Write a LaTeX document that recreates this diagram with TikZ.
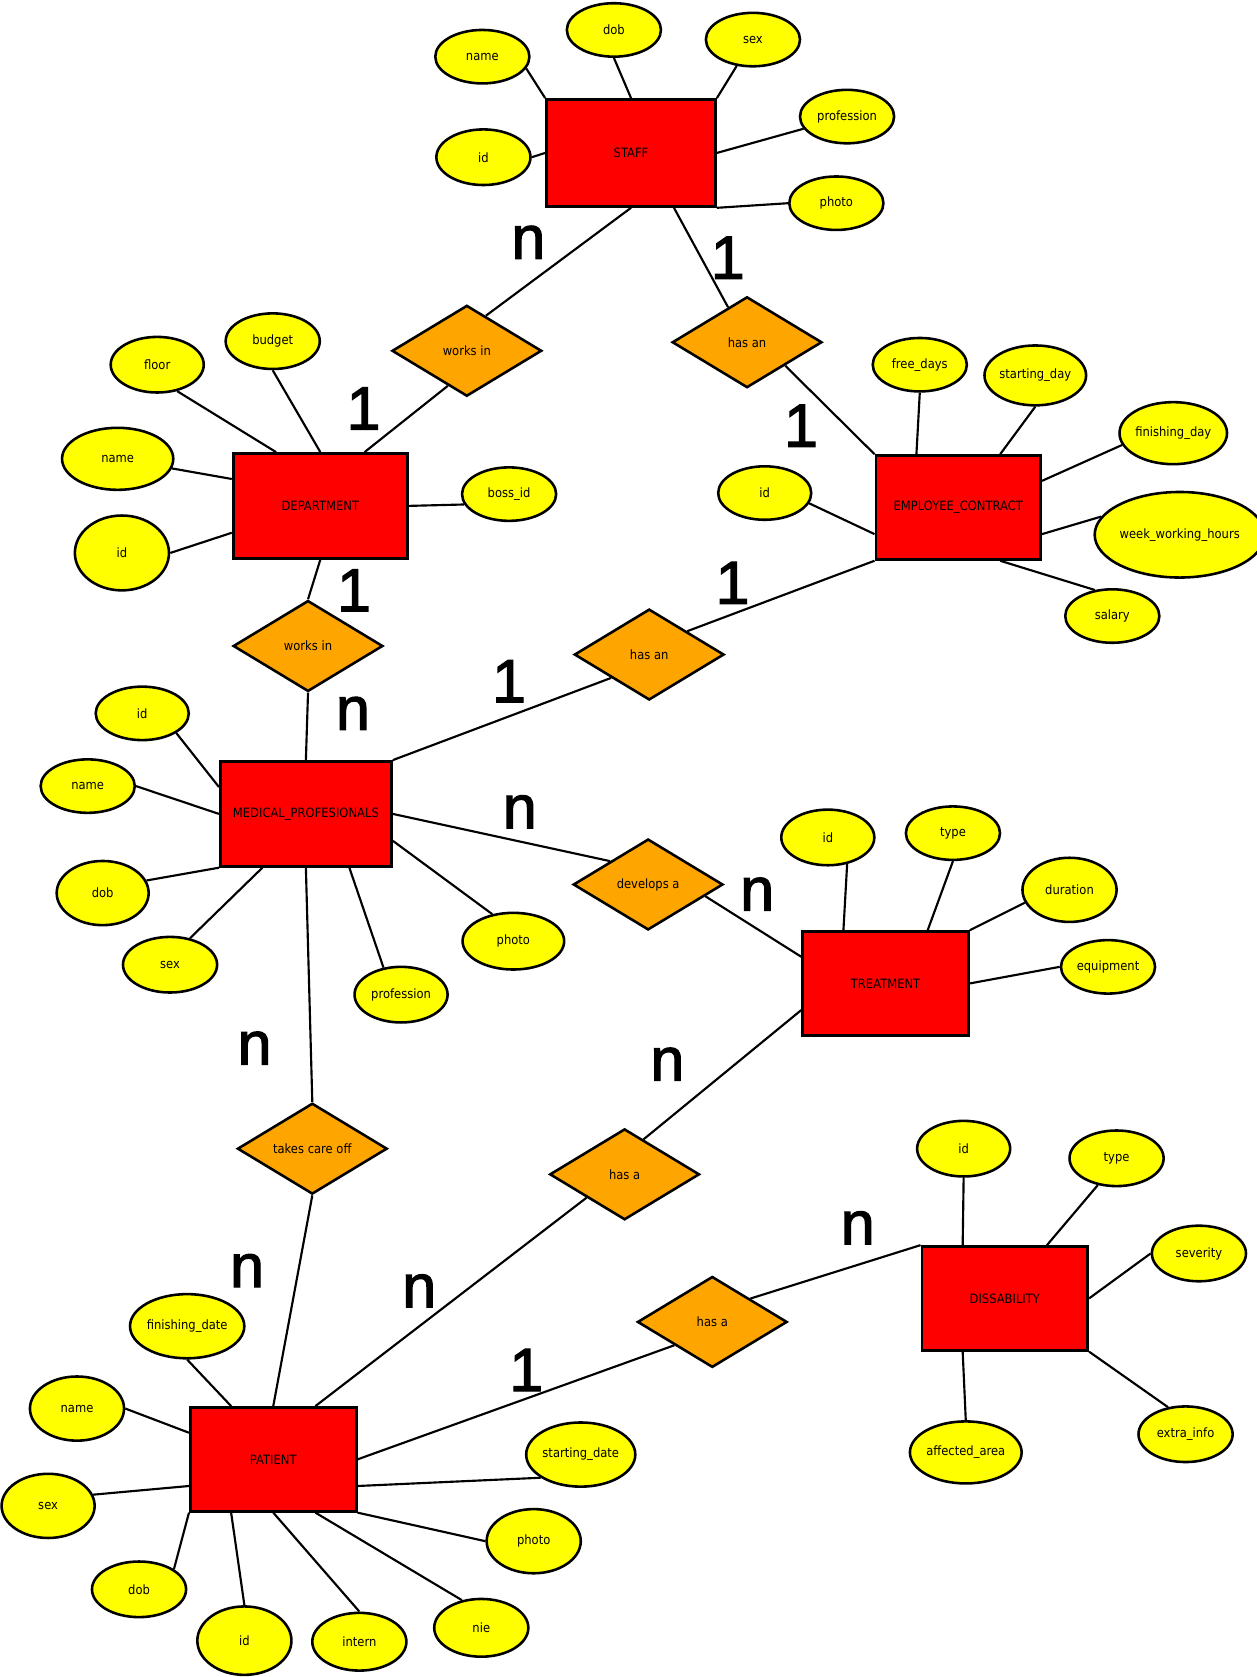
\documentclass[tikz,border=0pt]{standalone}
\usepackage{fontspec}
\setmainfont{DejaVu Sans}[FakeStretch=0.9]
\newfontfamily\cardfont{Liberation Sans}[FakeBold=2]
\usetikzlibrary{shapes.geometric,calc}
\definecolor{entred}{HTML}{FF0000}
\definecolor{attryellow}{HTML}{FFFF00}
\definecolor{relorange}{HTML}{FFA500}
\pgfdeclarelayer{background}
\pgfsetlayers{background,main}
\begin{document}
\begin{tikzpicture}[x=1pt,y=-1pt,
  lbl/.style={font=\fontsize{12}{14}\selectfont},
  entity/.style 2 args={rectangle,draw,fill=entred,line width=2.6pt,minimum width=#1pt,minimum height=#2pt,inner sep=0pt,lbl},
  attr/.style 2 args={ellipse,draw,fill=attryellow,line width=2.4pt,minimum width=#1pt,minimum height=#2pt,inner sep=0pt,lbl},
  rel/.style={diamond,draw,fill=relorange,line width=2.4pt,minimum width=140pt,minimum height=85pt,inner sep=0pt,lbl},
  link/.style={line width=2pt},
  card/.style={font=\cardfont\fontsize{57}{60}\selectfont,inner sep=0pt}]
\useasboundingbox (0,0) rectangle (1174.4,1568);

% STAFF
\node[entity={158}{100}] (staff) at (590,143) {STAFF};
\node[attr={88}{50}] (sname) at (451,53) {name};
\node[attr={88}{50}] (sdob) at (574,28) {dob};
\node[attr={88}{50}] (ssex) at (704,37) {sex};
\node[attr={88}{50}] (sprof) at (792,109) {profession};
\node[attr={88}{50}] (sphoto) at (782,190) {photo};
\node[attr={88}{52}] (sid) at (452,147) {id};

\node[rel] (w1) at (436.5,328) {works in};
\node[rel] (h1) at (698.5,320) {has an};

% DEPARTMENT
\node[entity={163}{98}] (dept) at (299.5,473) {DEPARTMENT};
\node[attr={87}{52}] (dfloor) at (147,341) {floor};
\node[attr={88}{52}] (dbudget) at (255,319) {budget};
\node[attr={104}{58}] (dname) at (110,429) {name};
\node[attr={88}{70}] (did) at (114,517) {id};
\node[attr={88}{50}] (dboss) at (476,462) {boss\_id};

% EMPLOYEE_CONTRACT
\node[entity={154}{97}] (ec) at (896,474.5) {EMPLOYEE\_CONTRACT};
\node[attr={88}{50}] (efree) at (860,341) {free\_days};
\node[attr={95}{56}] (estart) at (968,351) {starting\_day};
\node[attr={98}{58}] (efin) at (1097,405) {finishing\_day};
\node[attr={137}{80}] (eweek) at (1103,500) {week\_working\_hours};
\node[attr={88}{50}] (esal) at (1040,576) {salary};
\node[attr={87}{50}] (eid) at (715,461) {id};

\node[rel] (w2) at (288,604) {works in};
\node[rel] (h2) at (607,612) {has an};

% MEDICAL_PROFESIONALS
\node[entity={160}{98}] (med) at (286,761) {MEDICAL\_PROFESIONALS};
\node[attr={87}{50}] (mid) at (133,667) {id};
\node[attr={88}{50}] (mname) at (82,735) {name};
\node[attr={86}{60}] (mdob) at (96,835) {dob};
\node[attr={88}{52}] (msex) at (159,902) {sex};
\node[attr={87}{52}] (mprof) at (375,930) {profession};
\node[attr={95}{53}] (mphoto) at (480,880) {photo};

\node[rel] (dev) at (606,827) {develops a};
\node[rel] (tc) at (292,1074) {takes care off};

% TREATMENT
\node[entity={155}{97}] (tr) at (828,919.5) {TREATMENT};
\node[attr={87}{52}] (tid) at (774,783) {id};
\node[attr={88}{50}] (ttype) at (891,779) {type};
\node[attr={88}{60}] (tdur) at (1000,832) {duration};
\node[attr={88}{50}] (tequip) at (1036,904) {equipment};

\node[rel] (ha1) at (584,1098) {has a};
\node[rel] (ha2) at (666,1236) {has a};

% DISSABILITY
\node[entity={155}{97}] (dis) at (939.5,1214) {DISSABILITY};
\node[attr={87}{52}] (xid) at (901,1074) {id};
\node[attr={88}{52}] (xtype) at (1044,1083) {type};
\node[attr={88}{52}] (xsev) at (1121,1172) {severity};
\node[attr={88}{52}] (xextra) at (1108.5,1341) {extra\_info};
\node[attr={102}{58}] (xaff) at (903,1358) {affected\_area};

% PATIENT
\node[entity={155}{97}] (pat) at (255.5,1364.5) {PATIENT};
\node[attr={102}{60}] (pfin) at (175,1240) {finishing\_date};
\node[attr={88}{60}] (pname) at (72,1317) {name};
\node[attr={87}{60}] (psex) at (45,1408) {sex};
\node[attr={88}{52}] (pdob) at (130,1486) {dob};
\node[attr={88}{64}] (pid) at (228.5,1534) {id};
\node[attr={88}{54}] (pintern) at (336,1535) {intern};
\node[attr={88}{54}] (pnie) at (450,1522) {nie};
\node[attr={88}{60}] (pphoto) at (499,1441) {photo};
\node[attr={102}{60}] (pstart) at (543,1360) {starting\_date};

% cardinalities
\node[card] (c1) at (494,226.5) {n};
\node[card] (c2) at (680.5,241) {1};
\node[card] (c3) at (340,382) {1};
\node[card] (c4) at (749,398) {1};
\node[card] (c5) at (331,552) {1};
\node[card] (c6) at (685,545) {1};
\node[card] (c7) at (330,667) {n};
\node[card] (c8) at (476,637) {1};
\node[card] (c9) at (486,759) {n};
\node[card] (c10) at (708,836) {n};
\node[card] (c11) at (238,980) {n};
\node[card] (c12) at (624,995) {n};
\node[card] (c13) at (802,1148) {n};
\node[card] (c14) at (231,1188) {n};
\node[card] (c15) at (392,1207) {n};
\node[card] (c16) at (492,1281) {1};

\begin{pgfonlayer}{background}
\fill[white] (0,0) rectangle (1174.4,1568);
% STAFF attributes
\draw[link] (sname.-15) -- (staff.north west);
\draw[link] (sdob.south) -- (staff.north);
\draw[link] (ssex) -- (staff.north east);
\draw[link] (sprof) -- (staff.east);
\draw[link] (sphoto.west) -- (staff.south east);
\draw[link] (sid.east) -- (staff.west);
% relationships from STAFF
\draw[link] (staff.south) -- ($(w1.north)!0.25!(w1.east)$);
\draw[link] ($(w1.south)!0.25!(w1.west)$) -- ($(dept.north)!0.5!(dept.north east)$);
\draw[link] ($(staff.south)!0.5!(staff.south east)$) -- ($(h1.north)!0.25!(h1.west)$);
\draw[link] ($(h1.east)!0.5!(h1.south)$) -- (ec.north west);
% DEPARTMENT attributes
\draw[link] (dfloor.-53) -- ($(dept.north west)!0.5!(dept.north)$);
\draw[link] (dbudget.south) -- (dept.north);
\draw[link] (dname) -- ($(dept.north west)!0.5!(dept.west)$);
\draw[link] (did.east) -- ($(dept.west)!0.5!(dept.south west)$);
\draw[link] (dboss.193) -- (dept.east);
% EMPLOYEE_CONTRACT attributes
\draw[link] (efree.south) -- ($(ec.north west)!0.5!(ec.north)$);
\draw[link] (estart.south) -- ($(ec.north)!0.5!(ec.north east)$);
\draw[link] (efin.193) -- ($(ec.north east)!0.5!(ec.east)$);
\draw[link] (eweek.167) -- ($(ec.east)!0.5!(ec.south east)$);
\draw[link] (esal.124) -- ($(ec.south)!0.5!(ec.south east)$);
\draw[link] (eid.-13) -- ($(ec.west)!0.5!(ec.south west)$);
% works in / has an (middle)
\draw[link] (dept.south) -- (w2.north);
\draw[link] (w2.south) -- (med.north);
\draw[link] (ec.south west) -- ($(h2.east)!0.5!(h2.north)$);
\draw[link] ($(h2.west)!0.5!(h2.south)$) -- (med.north east);
% MEDICAL attributes
\draw[link] (mid.-30) -- ($(med.north west)!0.5!(med.west)$);
\draw[link] (mname.east) -- (med.west);
\draw[link] (mdob.16) -- (med.south west);
\draw[link] (msex.53) -- ($(med.south west)!0.5!(med.south)$);
\draw[link] (mprof.123) -- ($(med.south)!0.5!(med.south east)$);
\draw[link] (mphoto.128) -- ($(med.east)!0.5!(med.south east)$);
% develops a
\draw[link] (med.east) -- ($(dev.west)!0.5!(dev.north)$);
\draw[link] ($(dev.east)!0.25!(dev.south)$) -- ($(tr.north west)!0.5!(tr.west)$);
% takes care off
\draw[link] (med.south) -- (tc.north);
\draw[link] (tc.south) -- (pat.north);
% TREATMENT attributes
\draw[link] (tid.-54) -- ($(tr.north west)!0.5!(tr.north)$);
\draw[link] (ttype.south) -- ($(tr.north)!0.5!(tr.north east)$);
\draw[link] (tdur.196) -- (tr.north east);
\draw[link] (tequip.west) -- (tr.east);
% has a (treatment)
\draw[link] ($(tr.west)!0.5!(tr.south west)$) -- ($(ha1.north)!0.25!(ha1.east)$);
\draw[link] ($(ha1.west)!0.5!(ha1.south)$) -- ($(pat.north)!0.5!(pat.north east)$);
% has a (dissability)
\draw[link] ($(ha2.east)!0.5!(ha2.north)$) -- (dis.north west);
\draw[link] ($(ha2.west)!0.5!(ha2.south)$) -- (pat.east);
% DISSABILITY attributes
\draw[link] (xid.south) -- ($(dis.north west)!0.5!(dis.north)$);
\draw[link] (xtype.235) -- ($(dis.north)!0.5!(dis.north east)$);
\draw[link] (xsev.west) -- (dis.east);
\draw[link] (xextra.123) -- (dis.south east);
\draw[link] (xaff.north) -- ($(dis.south west)!0.5!(dis.south)$);
% PATIENT attributes
\draw[link] (pfin.south) -- ($(pat.north west)!0.5!(pat.north)$);
\draw[link] (pname.east) -- ($(pat.north west)!0.5!(pat.west)$);
\draw[link] (psex.14) -- ($(pat.west)!0.5!(pat.south west)$);
\draw[link] (pdob.30) -- (pat.south west);
\draw[link] (pid.north) -- ($(pat.south west)!0.5!(pat.south)$);
\draw[link] (pintern.north) -- (pat.south);
\draw[link] (pnie.125) -- ($(pat.south)!0.5!(pat.south east)$);
\draw[link] (pphoto.west) -- (pat.south east);
\draw[link] (pstart.210) -- ($(pat.east)!0.5!(pat.south east)$);
\end{pgfonlayer}
\end{tikzpicture}
\end{document}
